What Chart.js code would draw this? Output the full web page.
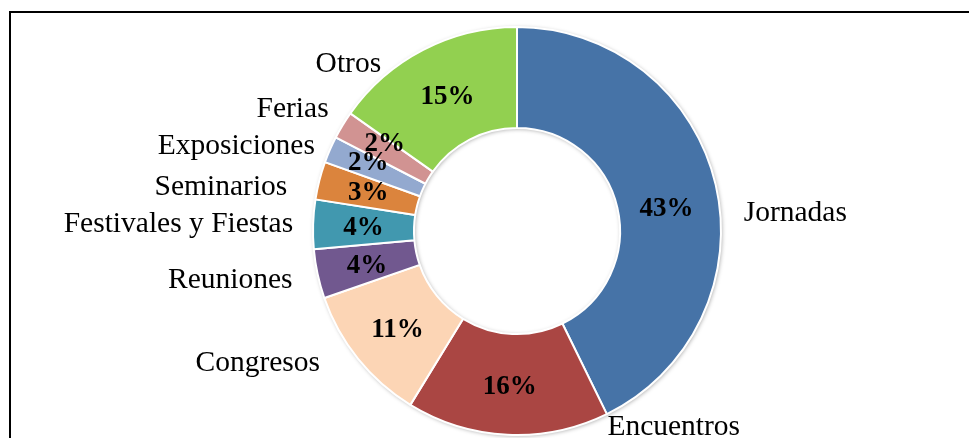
<!DOCTYPE html>
<html>
<head>
<meta charset="utf-8">
<script src="https://cdn.jsdelivr.net/npm/chart.js@4.4.1/dist/chart.umd.min.js"></script>
<style>
  html, body { margin: 0; padding: 0; background: #fff; overflow: hidden; }
  #wrap { position: relative; width: 969px; height: 438px; }
  #frame { position: absolute; left: 9px; top: 11px; width: 1200px; height: 800px;
           border-left: 2px solid #000; border-top: 2px solid #000; }
  canvas { position: absolute; left: 0; top: 0; }
</style>
</head>
<body>
<div id="wrap">
  <div id="frame"></div>
  <canvas id="myChart" width="969" height="438"></canvas>
</div>
<script>
// categories clockwise from 12 o'clock
const categories = ['Jornadas', 'Encuentros', 'Congresos', 'Reuniones',
  'Festivales y Fiestas', 'Seminarios', 'Exposiciones', 'Ferias', 'Otros'];
const shares = [42.7, 16.0, 10.9, 3.9, 3.9, 3.0, 2.1, 2.2, 15.2];

const colors = ['#4673A7', '#AA4643', '#FCD5B5', '#71588F', '#4198AF',
  '#DB843D', '#93A9CF', '#D19392', '#92D050'];

// label nudges (px) relative to the slice geometry, Excel moves them around a bit
const nameNudge = [[28, 36], [100, 0], [-38, 12], [-25, 14], [-20, 8],
  [-32, 14], [-15, 4], [-14, -8], [-42, 22]];
const pctNudge = [[0, 11], [0, 1], [0, 1], [0, 1], [0, 0],
  [0, -2], [-8, -9], [-1, -9], [1, 0]];

const serif = '"Liberation Serif", "Times New Roman", serif';

// soft grey shadow round the ring, like the office chart
const ringShadow = {
  id: 'ringShadow',
  beforeDatasetsDraw(chart) {
    const arc = chart.getDatasetMeta(0).data[0];
    if (!arc) return;
    const p = arc.getProps(['x', 'y', 'innerRadius', 'outerRadius'], true);
    const ctx = chart.ctx;
    ctx.save();
    ctx.shadowColor = 'rgba(0,0,0,0.35)';
    ctx.shadowBlur = 4;
    ctx.shadowOffsetX = 1;
    ctx.shadowOffsetY = 1;
    ctx.fillStyle = '#fff';
    ctx.beginPath();
    ctx.arc(p.x, p.y, p.outerRadius, 0, Math.PI * 2);
    ctx.arc(p.x, p.y, p.innerRadius, Math.PI * 2, 0, true);
    ctx.fill();
    ctx.restore();
  }
};

const sliceLabels = {
  id: 'sliceLabels',
  afterDatasetsDraw(chart) {
    const ctx = chart.ctx;
    const meta = chart.getDatasetMeta(0);
    const total = shares.reduce((a, b) => a + b, 0);
    ctx.save();
    ctx.fillStyle = '#000';
    ctx.textBaseline = 'alphabetic';
    meta.data.forEach((arc, i) => {
      const p = arc.getProps(['x', 'y', 'startAngle', 'endAngle', 'innerRadius', 'outerRadius'], true);
      const mid = (p.startAngle + p.endAngle) / 2;
      const rMid = (p.innerRadius + p.outerRadius) / 2;

      // percentage inside the ring
      ctx.font = 'bold 27px ' + serif;
      ctx.textAlign = 'center';
      const pct = Math.round(shares[i] / total * 100) + '%';
      ctx.fillText(pct,
        p.x + Math.cos(mid) * rMid + pctNudge[i][0],
        p.y + Math.sin(mid) * rMid + 9 + pctNudge[i][1]);

      // category name outside
      ctx.font = '29.5px ' + serif;
      const ox = p.x + Math.cos(mid) * p.outerRadius + nameNudge[i][0];
      const oy = p.y + Math.sin(mid) * p.outerRadius + nameNudge[i][1];
      ctx.textAlign = ox > p.x ? 'left' : 'right';
      ctx.fillText(categories[i], ox, oy);
    });
    ctx.restore();
  }
};

var ctx = document.getElementById('myChart');

var myChart = new Chart(ctx, {
  type: 'doughnut',
  data: {
    labels: categories,
    datasets: [{
      data: shares,
      backgroundColor: colors,
      borderColor: '#ffffff',
      borderWidth: 2
    }]
  },
  options: {
    responsive: false,
    animation: false,
    devicePixelRatio: 1,
    cutout: '50.5%',
    layout: { padding: { top: 26, bottom: 2, left: 165, right: 100 } },
    plugins: {
      legend: { display: false },
      tooltip: { enabled: false }
    }
  },
  plugins: [ringShadow, sliceLabels]
});
</script>
</body>
</html>
